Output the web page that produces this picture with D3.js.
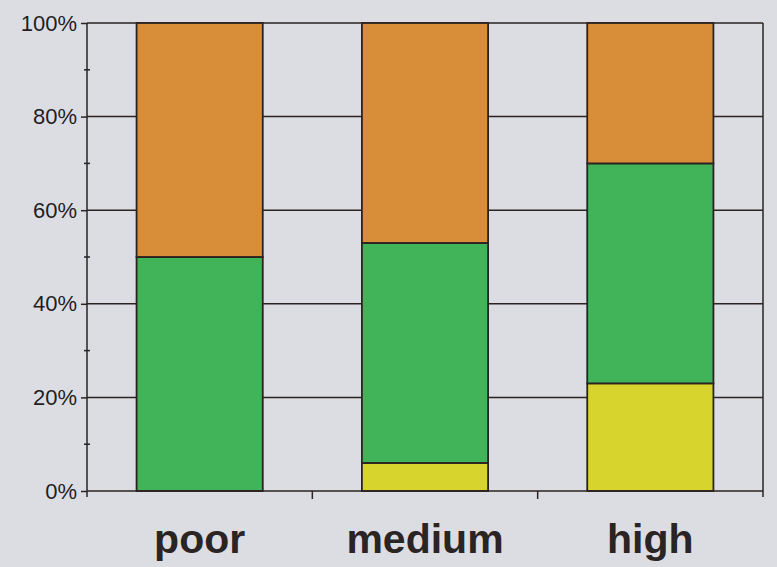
<!DOCTYPE html>
<html>
<head>
<meta charset="utf-8">
<script src="https://cdn.jsdelivr.net/npm/d3@7"></script>
<style>
  body { margin: 0; background: #dcdde2; }
  svg { display: block; }
</style>
</head>
<body>
<script>
  // data (percent of each class, stacked bottom to top)
  const categories = ["poor", "medium", "high"];
  const yellowValues = [0, 6, 23];
  const greenValues = [50, 47, 47];
  const orangeValues = [50, 47, 30];
  const yTicks = [0, 20, 40, 60, 80, 100];
  const yMinorTicks = [10, 30, 50, 70, 90];

  const width = 777, height = 567;
  const plotLeft = 87, plotRight = 763, plotTop = 23, plotBottom = 491;

  const svg = d3.select("body").append("svg")
    .attr("width", width)
    .attr("height", height);

  const x = d3.scaleBand()
    .domain(categories)
    .range([plotLeft, plotRight])
    .paddingInner(0.44)
    .paddingOuter(0.22);

  const y = d3.scaleLinear()
    .domain([0, 100])
    .range([plotBottom, plotTop]);

  const lineColor = "#2b2222";

  // gridlines behind the bars
  svg.append("g")
    .selectAll("line")
    .data(yTicks.slice(1))
    .enter()
    .append("line")
      .attr("x1", plotLeft)
      .attr("x2", plotRight)
      .attr("y1", d => y(d))
      .attr("y2", d => y(d))
      .attr("stroke", lineColor)
      .attr("stroke-width", 1.5);

  // right border of plot
  svg.append("line")
    .attr("x1", plotRight).attr("x2", plotRight)
    .attr("y1", plotTop).attr("y2", plotBottom + 6)
    .attr("stroke", lineColor)
    .attr("stroke-width", 1.5);

  // stack the three series
  const rows = categories.map((c, i) => ({
    cat: c, yellow: yellowValues[i], green: greenValues[i], orange: orangeValues[i]
  }));
  const keys = ["yellow", "green", "orange"];
  const colors = { yellow: "#d8d42e", green: "#41b45a", orange: "#d88e38" };
  const stacked = d3.stack().keys(keys)(rows);

  svg.append("g")
    .selectAll("g")
    .data(stacked)
    .enter()
    .append("g")
      .attr("fill", d => colors[d.key])
    .selectAll("rect")
    .data(d => d.filter(s => s[1] - s[0] > 0))
    .enter()
    .append("rect")
      .attr("x", d => x(d.data.cat))
      .attr("width", x.bandwidth())
      .attr("y", d => y(d[1]))
      .attr("height", d => y(d[0]) - y(d[1]))
      .attr("stroke", lineColor)
      .attr("stroke-width", 1.8);

  // y axis
  const yAxis = d3.axisLeft(y)
    .tickValues(yTicks)
    .tickSize(6)
    .tickPadding(4)
    .tickFormat(d => d + "%");
  const gy = svg.append("g")
    .attr("transform", `translate(${plotLeft},0)`)
    .call(yAxis);
  gy.select(".domain").remove();
  gy.selectAll(".tick line").attr("stroke", lineColor).attr("stroke-width", 1.5);
  gy.selectAll(".tick text")
    .attr("fill", "#241e1e")
    .style("font-family", "'Liberation Sans', Arial, sans-serif")
    .style("font-size", "22px");

  svg.append("line")
    .attr("x1", plotLeft).attr("x2", plotLeft)
    .attr("y1", plotTop).attr("y2", plotBottom + 6)
    .attr("stroke", lineColor)
    .attr("stroke-width", 1.5);

  // minor ticks crossing the axis
  svg.append("g")
    .selectAll("line")
    .data(yMinorTicks)
    .enter()
    .append("line")
      .attr("x1", plotLeft - 3)
      .attr("x2", plotLeft + 3)
      .attr("y1", d => y(d))
      .attr("y2", d => y(d))
      .attr("stroke", lineColor)
      .attr("stroke-width", 1.5);

  // x axis: baseline, boundary ticks and category labels
  svg.append("line")
    .attr("x1", plotLeft).attr("x2", plotRight)
    .attr("y1", y(0)).attr("y2", y(0))
    .attr("stroke", lineColor)
    .attr("stroke-width", 1.5);

  const step = x.step();
  const bounds = categories.slice(1).map(c => x(c) - x.paddingInner() * step / 2);
  svg.append("g")
    .selectAll("line")
    .data(bounds)
    .enter()
    .append("line")
      .attr("x1", d => d).attr("x2", d => d)
      .attr("y1", y(0)).attr("y2", y(0) + 8)
      .attr("stroke", lineColor)
      .attr("stroke-width", 1.5);

  svg.append("g")
    .selectAll("text")
    .data(categories)
    .enter()
    .append("text")
      .attr("x", d => x(d) + x.bandwidth() / 2)
      .attr("y", 553)
      .attr("text-anchor", "middle")
      .attr("fill", "#2a2424")
      .style("font-family", "'Liberation Sans', Arial, sans-serif")
      .style("font-weight", "bold")
      .style("font-size", "41px")
      .text(d => d);
</script>
</body>
</html>
